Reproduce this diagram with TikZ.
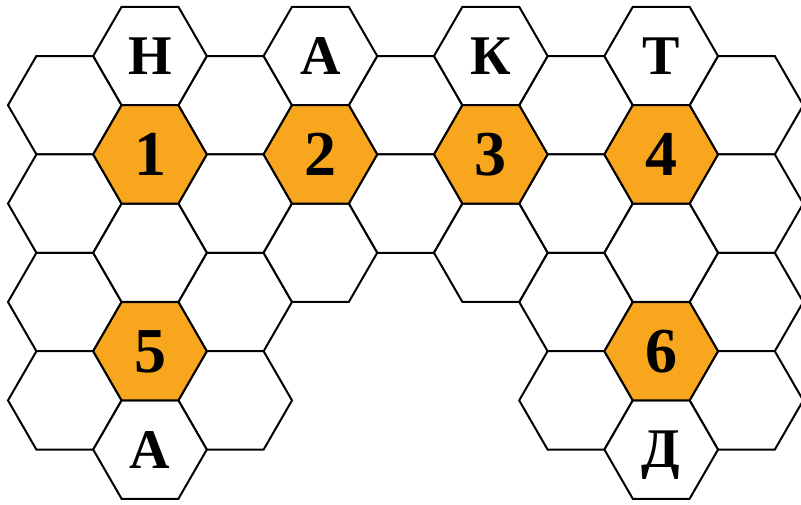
\documentclass[tikz,border=0pt]{standalone}
\usepackage{fontspec}
\setmainfont{Liberation Serif}
\usetikzlibrary{shapes.geometric}
\definecolor{cellorange}{RGB}{247,166,30}

\begin{document}
\begin{tikzpicture}[x=1pt,y=-1pt,
  cell/.style={regular polygon,regular polygon sides=6,draw=black,
    line width=2pt,fill=white,minimum size=113.6pt,inner sep=0pt,
    outer sep=0pt,text depth=0pt,font=\bfseries\fontsize{56}{60}\selectfont},
  keycell/.style={cell,fill=cellorange,font=\bfseries\fontsize{64}{70}\selectfont}]
  \useasboundingbox (0,0) rectangle (801,505);

  % low columns
  \foreach \col/\rows in {0/{0,1,2,3},2/{0,1,2,3},4/{0,1},6/{0,1,2,3},8/{0,1,2,3}}
    \foreach \row in \rows
      \node[cell] (c\col-\row) at ({64.8+85.2*\col},{105.2+98.4*\row}) {};
  % high columns, empty cells
  \foreach \col/\rows in {1/{2},3/{2},5/{2},7/{2}}
    \foreach \row in \rows
      \node[cell] (h\col-\row) at ({64.8+85.2*\col},{56+98.4*\row}) {};

  % letters
  \node[cell] (letN) at (150,56) {Н};
  \node[cell] (letA) at (320.4,56) {А};
  \node[cell] (letK) at (490.8,56) {К};
  \node[cell] (letT) at (661.2,56) {Т};
  \node[cell] (letA2) at (150,449.6) {А};
  \node[cell] (letD) at (661.2,449.6) {Д};

  % numbered cells
  \node[keycell] (one) at (150,154.4) {1};
  \node[keycell] (two) at (320.4,154.4) {2};
  \node[keycell] (three) at (490.8,154.4) {3};
  \node[keycell] (four) at (661.2,154.4) {4};
  \node[keycell] (five) at (150,351.2) {5};
  \node[keycell] (six) at (661.2,351.2) {6};
\end{tikzpicture}
\end{document}
